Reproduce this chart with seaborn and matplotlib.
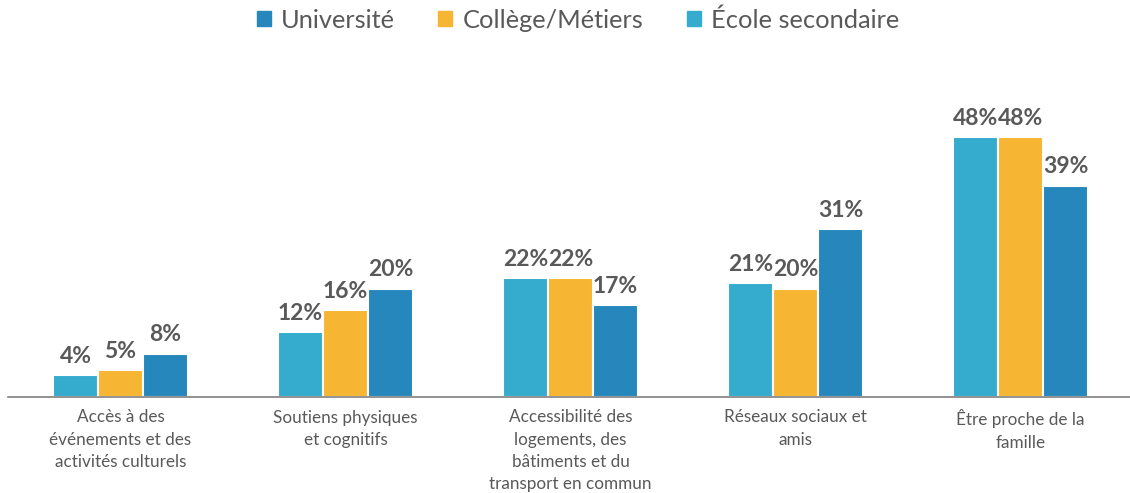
import numpy as np
import pandas as pd
import matplotlib
matplotlib.use("Agg")
import matplotlib.pyplot as plt
import seaborn as sns
from matplotlib.patches import Patch

# Data
categories = [
    "Accès à des\névénements et des\nactivités culturels",
    "Soutiens physiques\net cognitifs",
    "Accessibilité des\nlogements, des\nbâtiments et du\ntransport en commun",
    "Réseaux sociaux et\namis",
    "Être proche de la\nfamille",
]
secondaire = [4, 12, 22, 21, 48]
college = [5, 16, 22, 20, 48]
universite = [8, 20, 17, 31, 39]

series_names = ["École secondaire", "Collège/Métiers", "Université"]
colors = ["#35ABCE", "#F6B532", "#2587BB"]
grey = "#595959"

df = pd.DataFrame({
    "cat": categories * 3,
    "niveau": [series_names[0]] * 5 + [series_names[1]] * 5 + [series_names[2]] * 5,
    "val": secondaire + college + universite,
})

sns.set_style("white")
plt.rcParams["font.family"] = ["Lato", "DejaVu Sans"]

fig = plt.figure(figsize=(11.3, 4.93), dpi=100)
ax = fig.add_axes([8 / 1130, 96 / 493, 1125 / 1130, 325 / 493])

sns.barplot(data=df, x="cat", y="val", hue="niveau", hue_order=series_names,
            palette=colors, width=0.6, saturation=1, ax=ax, legend=False,
            edgecolor="white", linewidth=1.5)

for cont in ax.containers:
    ax.bar_label(cont, labels=[f"{v:.0f}%" for v in cont.datavalues],
                 padding=6, fontsize=16.5, fontweight="bold", color=grey)

ax.set_ylim(0, 60)
ax.set_xlim(-0.5, 4.5)
ax.set_xlabel("")
ax.set_ylabel("")
ax.set_yticks([])
ax.tick_params(axis="x", length=0, pad=9, labelsize=12.3, labelcolor=grey)
for lbl in ax.get_xticklabels():
    lbl.set_linespacing(1.47)
for s in ["top", "right", "left"]:
    ax.spines[s].set_visible(False)
ax.spines["bottom"].set_color("#7F7F7F")
ax.spines["bottom"].set_linewidth(1.2)

handles = [Patch(color=colors[i], label=series_names[i]) for i in [2, 1, 0]]
fig.legend(handles=handles, loc="upper center", bbox_to_anchor=(0.5115, 1.03),
           ncol=3, frameon=False, fontsize=18.3, labelcolor=grey,
           handlelength=0.55, handleheight=0.55, handletextpad=0.4,
           columnspacing=1.7)

fig.savefig("out.png", dpi=100)
